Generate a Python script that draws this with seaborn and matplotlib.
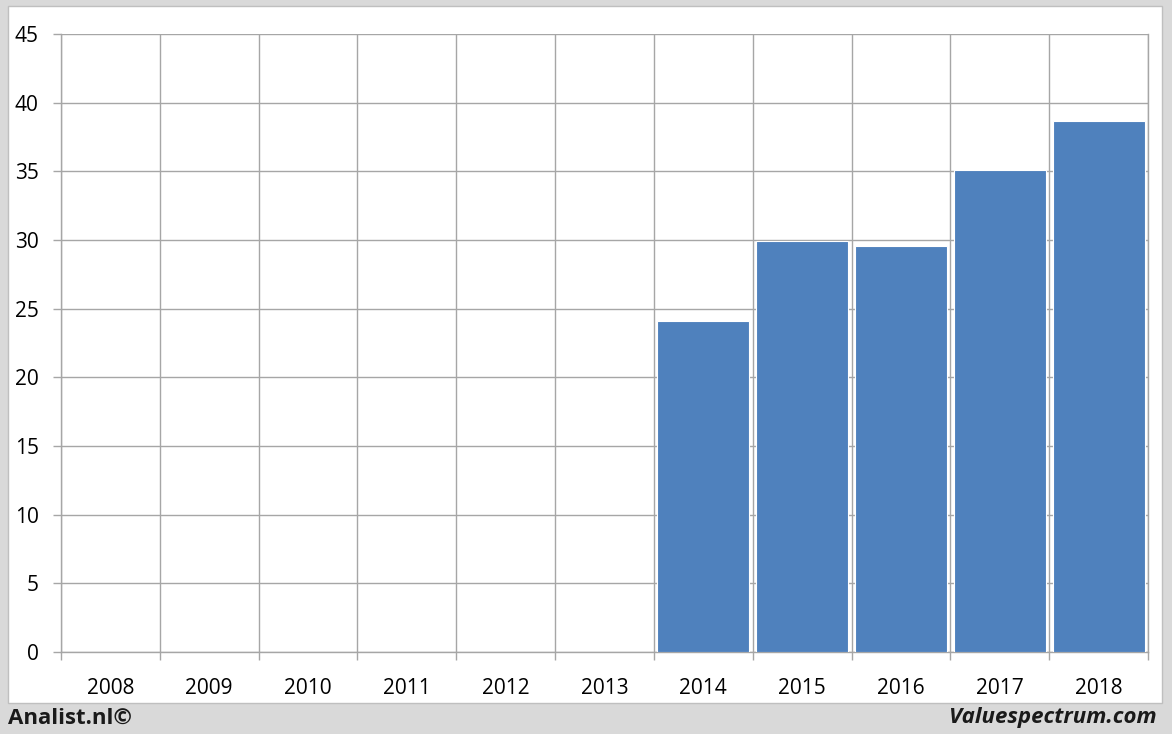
import numpy as np
import pandas as pd
import matplotlib
matplotlib.use('Agg')
import matplotlib.pyplot as plt
import seaborn as sns

YEARS = ['2008', '2009', '2010', '2011', '2012', '2013',
         '2014', '2015', '2016', '2017', '2018']
VALUES = [0, 0, 0, 0, 0, 0, 24.1, 29.9, 29.55, 35.1, 38.65]
Y_TICKS = [0, 5, 10, 15, 20, 25, 30, 35, 40, 45]

BAR_COLOR = '#4f81bd'
GRID_COLOR = '#a6a6a6'

sns.set_theme(style='white')
plt.rcParams['font.family'] = ['Open Sans', 'DejaVu Sans']

df = pd.DataFrame({'year': YEARS, 'value': VALUES})

fig = plt.figure(figsize=(11.72, 7.34), dpi=100, facecolor='#d9d9d9')

# white panel behind the chart
panel = plt.Rectangle((8 / 1172, 1 - 703 / 734), 1154 / 1172, 697 / 734,
                      transform=fig.transFigure, facecolor='white',
                      edgecolor='#bfbfbf', linewidth=1, zorder=-1)
fig.patches.append(panel)

ax = fig.add_axes([61 / 1172, 1 - 652 / 734, 1087 / 1172, 618 / 734])
ax.set_zorder(1)
ax.set_facecolor('none')

sns.barplot(data=df, x='year', y='value', order=YEARS, color=BAR_COLOR,
            width=0.93, saturation=1, edgecolor='white', linewidth=0.8,
            ax=ax, zorder=3)

ax.set_xlim(-0.5, len(YEARS) - 0.5)
ax.set_ylim(0, 45)
ax.set_yticks(Y_TICKS)
ax.set_xticks(range(len(YEARS)))
ax.set_xticklabels(YEARS)
ax.set_xticks(np.arange(-0.5, len(YEARS)), minor=True)

ax.grid(axis='y', which='major', color=GRID_COLOR, linewidth=1, zorder=0)
ax.grid(axis='x', which='minor', color=GRID_COLOR, linewidth=1, zorder=0)
ax.grid(axis='x', which='major', visible=False)
ax.set_axisbelow(True)

ax.tick_params(axis='x', which='major', length=0, pad=19, labelsize=15, colors='black')
ax.tick_params(axis='x', which='minor', length=6, width=1, color=GRID_COLOR, bottom=True)
ax.tick_params(axis='y', length=6, width=1, color=GRID_COLOR, left=True,
               pad=10, labelsize=15, labelcolor='black')

ax.spines['top'].set_visible(False)
for side in ['left', 'bottom', 'right']:
    ax.spines[side].set_color(GRID_COLOR)
    ax.spines[side].set_linewidth(1)

ax.set_xlabel('')
ax.set_ylabel('')

fig.text(8 / 1172, 1 - 718 / 734, 'Analist.nl©', fontsize=16, fontweight='bold',
         ha='left', va='center', color='#1a1a1a')
fig.text(1157 / 1172, 1 - 718 / 734, 'Valuespectrum.com', fontsize=16,
         fontweight='bold', fontstyle='italic', ha='right', va='center',
         color='#1a1a1a')

fig.savefig('out.png', dpi=100, facecolor=fig.get_facecolor())
